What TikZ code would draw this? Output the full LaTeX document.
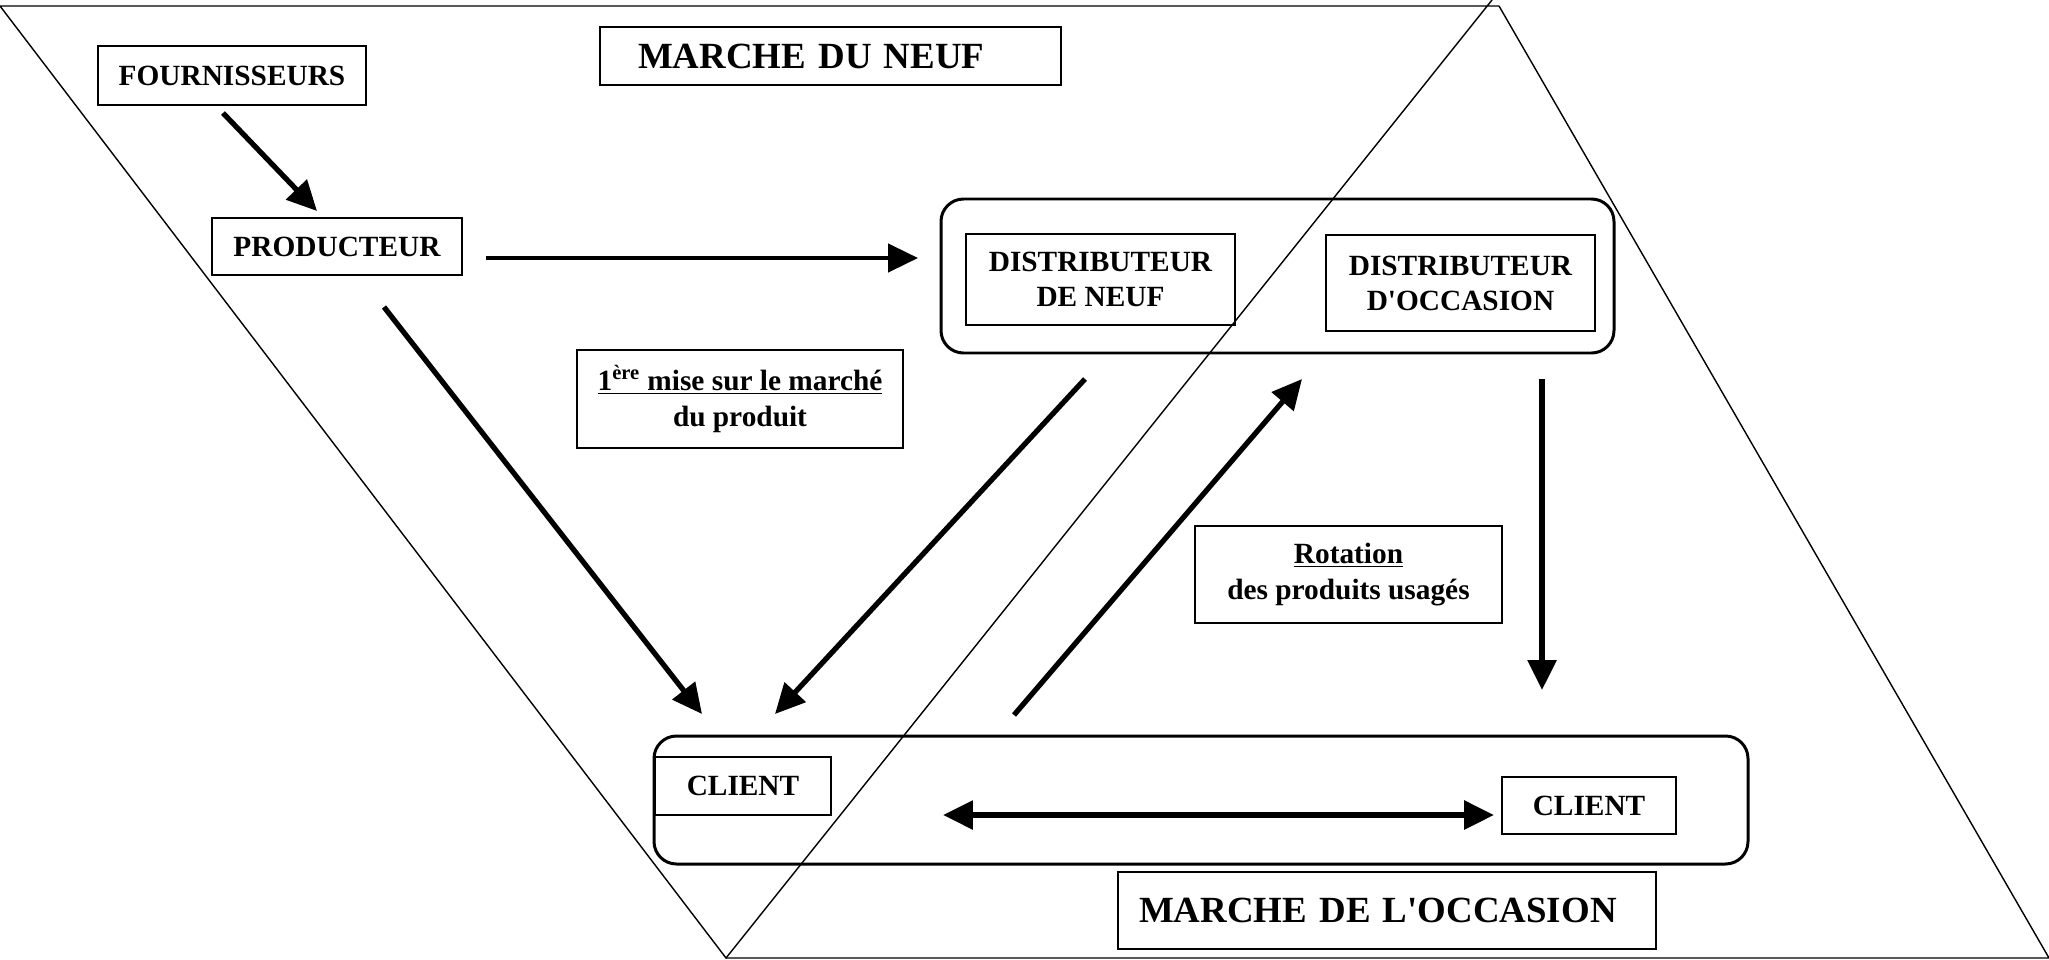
\documentclass[tikz,border=0pt]{standalone}
\usepackage{fontspec}
\setmainfont{Liberation Serif}
\usetikzlibrary{arrows.meta}

\tikzset{
  box/.style={draw,line width=1pt,font=\fontsize{16.7}{20}\selectfont\bfseries,align=center,inner sep=0pt},
  titlebox/.style={draw,line width=1pt,font=\fontsize{21}{25}\selectfont\bfseries,align=left,inner ysep=0pt},
  group/.style={line width=1.7pt,rounded corners=0.45cm},
  flow/.style={line width=3pt,-{Triangle[length=17pt,width=16pt]}},
}

\begin{document}
\begin{tikzpicture}[x=0.02cm,y=-0.02cm]
\useasboundingbox (0,0) rectangle (2049,960);

% les deux marches
\coordinate (NA) at (0,6);
\coordinate (NB) at (1499,6);
\coordinate (V) at (726,958);
\coordinate (VT) at (1492,0);
\coordinate (OB) at (2049,958);

\draw[line width=0.8pt] (NB) -- (NA) -- (V) -- (VT);
\draw[line width=0.8pt] (NB) -- (OB) -- (V);

\node[titlebox,text width=7.7cm,inner xsep=0.76cm,minimum height=1.16cm] (neuf) at (830.5,56) {MARCHE DU NEUF};
\node[titlebox,text width=9.92cm,inner xsep=0.42cm,minimum height=1.54cm] (occ) at (1387,910.5) {MARCHE DE L\textquotesingle OCCASION};

% boites
\node[box,minimum width=5.36cm,minimum height=1.18cm] (four) at (232,75.5) {FOURNISSEURS};
\node[box,minimum width=5cm,minimum height=1.14cm] (prod) at (337,246.5) {PRODUCTEUR};

\draw[group] (941,199) rectangle (1614,353);
\node[box,minimum width=5.38cm,minimum height=1.82cm] (dn) at (1100.5,279.5) {DISTRIBUTEUR\\DE NEUF};
\node[box,minimum width=5.38cm,minimum height=1.92cm] (do) at (1460.5,283) {DISTRIBUTEUR\\D\textquotesingle OCCASION};

\draw[group] (654,736) rectangle (1748,864);
\node[box,minimum width=3.52cm,minimum height=1.16cm] (cl1) at (743,786) {CLIENT};
\node[box,minimum width=3.48cm,minimum height=1.14cm] (cl2) at (1589,805.5) {CLIENT};

\node[box,minimum width=6.52cm,minimum height=1.96cm] (mise) at (740,399) {\underline{1\textsuperscript{ère} mise sur le marché}\\du produit};
\node[box,minimum width=6.14cm,minimum height=1.94cm] (rot) at (1348.5,574.5) {\underline{Rotation}\\des produits usagés};

% fleches
\coordinate (a1) at (223,113);
\coordinate (a2) at (317,211);
\coordinate (b1) at (486,258);
\coordinate (b2) at (918,258);
\coordinate (c1) at (384,307);
\coordinate (c2) at (702,714);
\coordinate (d1) at (1085,379);
\coordinate (d2) at (775,714);
\coordinate (e1) at (1014,715);
\coordinate (e2) at (1302,379);
\coordinate (f1) at (1542,379);
\coordinate (f2) at (1542,690);
\coordinate (g1) at (943,815);
\coordinate (g2) at (1494,815);

\draw[flow] (a1) -- (a2);
\draw[flow,line width=2.2pt] (b1) -- (b2);
\draw[flow] (c1) -- (c2);
\draw[flow] (d1) -- (d2);
\draw[flow] (e1) -- (e2);
\draw[flow] (f1) -- (f2);
\draw[flow,{Triangle[length=17pt,width=16pt]}-{Triangle[length=17pt,width=16pt]}] (g1) -- (g2);

\end{tikzpicture}
\end{document}
